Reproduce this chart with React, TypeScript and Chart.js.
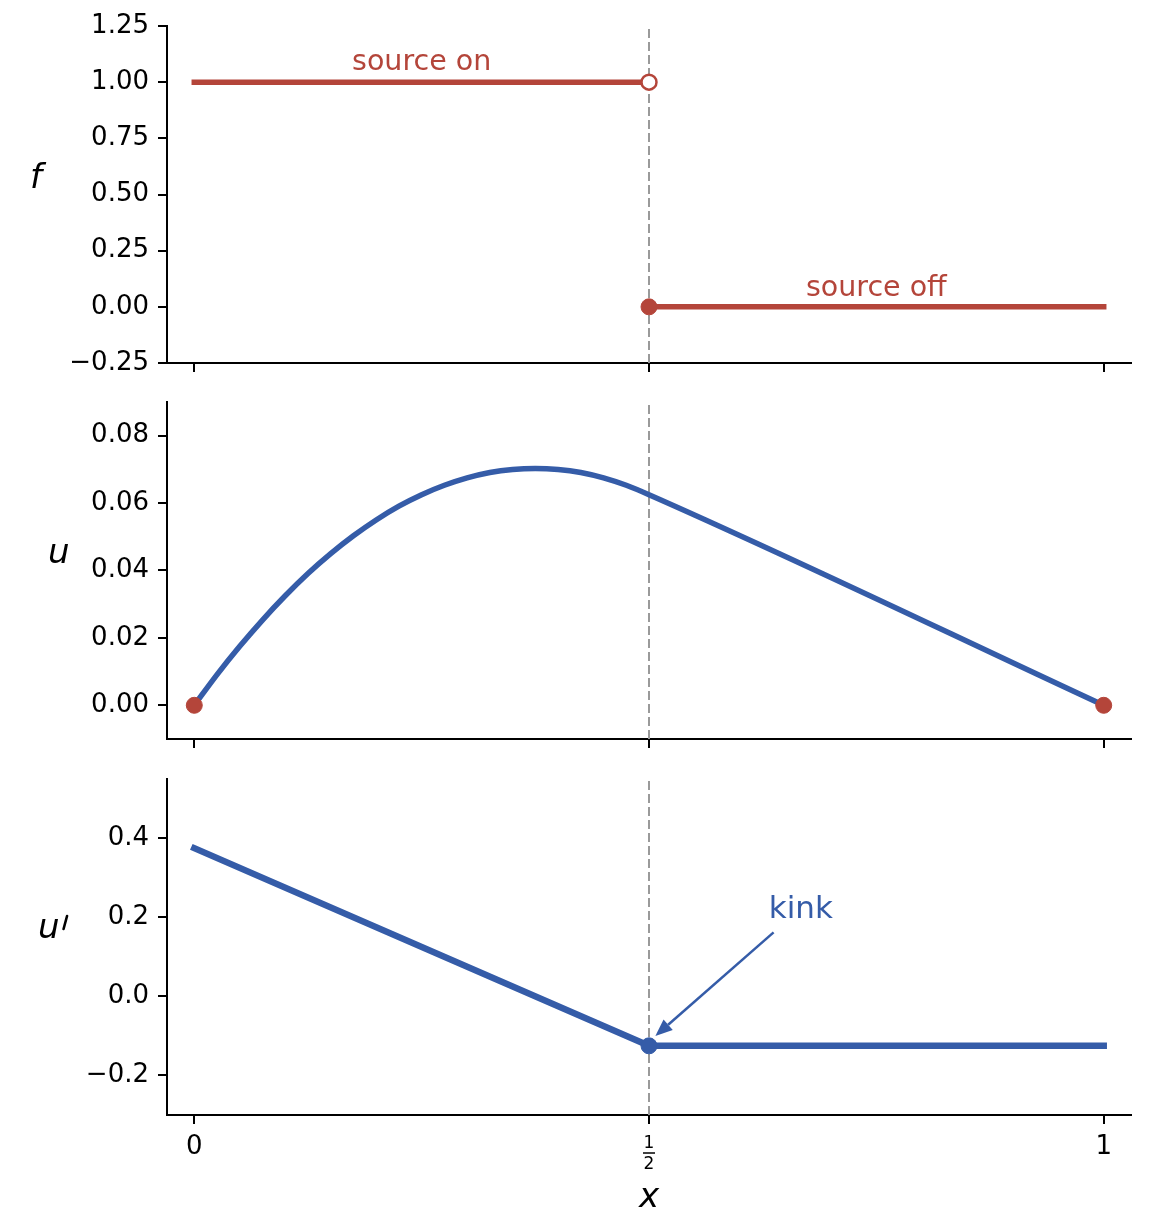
import { useEffect, useRef } from 'react';
import { Chart, registerables } from 'chart.js';

Chart.register(...registerables);

const RED = '#b4453a';
const BLUE = '#355ca8';
const GRAY = '#9a9a9a';
const FONT = '"DejaVu Sans", sans-serif';

// shared x axis
const xTicks = [0, 0.5, 1];

// f panel
const fTicks = [-0.25, 0, 0.25, 0.5, 0.75, 1, 1.25];
const fOnX = [0, 0.5];
const fOnY = [1, 1];
const fOffX = [0.5, 1];
const fOffY = [0, 0];

// u panel
const uTicks = [0, 0.02, 0.04, 0.06, 0.08];
const uX = [0, 0.025, 0.05, 0.075, 0.1, 0.125, 0.15, 0.175, 0.2, 0.225, 0.25, 0.275, 0.3, 0.325, 0.35, 0.375, 0.4, 0.425, 0.45, 0.475, 0.5, 1];
const uY = [0, 0.0091, 0.0175, 0.0253, 0.0325, 0.0391, 0.045, 0.0503, 0.055, 0.0591, 0.0625, 0.0653, 0.0675, 0.0691, 0.07, 0.0703, 0.07, 0.0691, 0.0675, 0.0653, 0.0625, 0];
const edgeX = [0, 1];
const edgeY = [0, 0];

// u' panel
const duTicks = [-0.2, 0, 0.2, 0.4];
const duX = [0, 0.5, 1];
const duY = [0.375, -0.125, -0.125];
const kinkX = [0.5];
const kinkY = [-0.125];

const pts = (xs: number[], ys: number[]) => xs.map((x, i) => ({ x, y: ys[i] }));
const fmt = (v: number, d: number) => v.toFixed(d).replace('-', '\u2212');

type Txt = { text: string; x: number; y: number; color: string; size: number };
type PanelProps = {
  top: number;
  height: number;
  padTop: number;
  xHeight: number;
  yMin: number;
  yMax: number;
  yTicks: number[];
  decimals: number;
  yLabel: { text: string; x: number; y: number; prime?: boolean };
  datasets: any[];
  texts?: Txt[];
  arrow?: { x0: number; y0: number; x1: number; y1: number };
  bottom?: boolean;
};

const vline = (yMin: number, yMax: number) => ({
  data: [{ x: 0.5, y: yMin }, { x: 0.5, y: yMax }],
  borderColor: GRAY,
  borderWidth: 2,
  borderDash: [9, 4],
  pointRadius: 0,
  order: 3,
});

const Panel = (p: PanelProps) => {
  const chartRef = useRef<HTMLCanvasElement>(null);
  const chartInstance = useRef<Chart | null>(null);

  useEffect(() => {
    if (!chartRef.current) return;
    const ctx = chartRef.current.getContext('2d');
    if (!ctx) return;
    if (chartInstance.current) chartInstance.current.destroy();

    const decor = {
      id: 'decor',
      afterDraw(chart: any) {
        const c = chart.ctx;
        const xs = chart.scales.x;
        const ys = chart.scales.y;
        const area = chart.chartArea;
        c.save();
        c.textAlign = 'center';
        c.textBaseline = 'alphabetic';
        for (const t of p.texts ?? []) {
          c.font = `${t.size}px ${FONT}`;
          c.fillStyle = t.color;
          c.fillText(t.text, xs.getPixelForValue(t.x), ys.getPixelForValue(t.y));
        }
        if (p.arrow) {
          const ax0 = xs.getPixelForValue(p.arrow.x0);
          const ay0 = ys.getPixelForValue(p.arrow.y0);
          const ax1 = xs.getPixelForValue(p.arrow.x1);
          const ay1 = ys.getPixelForValue(p.arrow.y1);
          const ang = Math.atan2(ay1 - ay0, ax1 - ax0);
          const hl = 17;
          const hw = 7;
          const bx = ax1 - hl * Math.cos(ang);
          const by = ay1 - hl * Math.sin(ang);
          c.strokeStyle = BLUE;
          c.fillStyle = BLUE;
          c.lineWidth = 2.5;
          c.beginPath();
          c.moveTo(ax0, ay0);
          c.lineTo(bx, by);
          c.stroke();
          c.beginPath();
          c.moveTo(ax1, ay1);
          c.lineTo(bx + hw * Math.sin(ang), by - hw * Math.cos(ang));
          c.lineTo(bx - hw * Math.sin(ang), by + hw * Math.cos(ang));
          c.closePath();
          c.fill();
        }
        // y label, horizontal
        c.fillStyle = '#000';
        c.strokeStyle = '#000';
        c.textAlign = 'left';
        c.font = `italic 34px ${FONT}`;
        c.fillText(p.yLabel.text, p.yLabel.x, p.yLabel.y);
        if (p.yLabel.prime) {
          const px = p.yLabel.x + c.measureText(p.yLabel.text).width;
          c.lineWidth = 2.6;
          c.lineCap = 'round';
          c.beginPath();
          c.moveTo(px + 7.5, p.yLabel.y - 22);
          c.lineTo(px + 4, p.yLabel.y - 9);
          c.stroke();
        }
        if (p.bottom) {
          // 1/2 tick label as a stacked fraction
          const hx = xs.getPixelForValue(0.5);
          const b = area.bottom;
          c.textAlign = 'center';
          c.font = `17px ${FONT}`;
          c.fillText('1', hx, b + 32.5);
          c.fillText('2', hx, b + 54);
          c.lineWidth = 1.5;
          c.lineCap = 'butt';
          c.beginPath();
          c.moveTo(hx - 6, b + 38);
          c.lineTo(hx + 6, b + 38);
          c.stroke();
          c.font = `italic 34px ${FONT}`;
          c.fillText('x', (area.left + area.right) / 2, b + 92);
        }
        c.restore();
      },
    };

    chartInstance.current = new Chart(ctx, {
      type: 'line',
      data: { datasets: [...p.datasets, vline(p.yMin, p.yMax)] },
      options: {
        animation: false,
        responsive: true,
        maintainAspectRatio: false,
        events: [],
        layout: { padding: { top: p.padTop, right: 41, left: 0, bottom: 0 } },
        plugins: { legend: { display: false }, tooltip: { enabled: false } },
        scales: {
          x: {
            type: 'linear',
            min: -0.03,
            max: 1.03,
            afterBuildTicks: (s: any) => {
              s.ticks = xTicks.map((v) => ({ value: v }));
            },
            afterFit: (s: any) => {
              s.height = p.xHeight;
              s.paddingLeft = 0;
              s.paddingRight = 0;
            },
            grid: { drawOnChartArea: false, drawTicks: true, tickLength: 9, color: '#000', lineWidth: 2 },
            border: { display: true, color: '#000', width: 2 },
            ticks: {
              autoSkip: false,
              maxRotation: 0,
              padding: 8,
              color: '#000',
              font: { family: FONT, size: 26 },
              callback: (v: any) => (p.bottom && (v === 0 || v === 1) ? String(v) : ''),
            },
          },
          y: {
            type: 'linear',
            min: p.yMin,
            max: p.yMax,
            afterBuildTicks: (s: any) => {
              s.ticks = p.yTicks.map((v) => ({ value: v }));
            },
            afterFit: (s: any) => {
              s.width = 167;
              s.paddingTop = 0;
              s.paddingBottom = 0;
            },
            grid: { drawOnChartArea: false, drawTicks: true, tickLength: 9, color: '#000', lineWidth: 2 },
            border: { display: true, color: '#000', width: 2 },
            ticks: {
              padding: 9,
              color: '#000',
              font: { family: FONT, size: 26 },
              callback: (v: any) => fmt(Number(v), p.decimals),
            },
          },
        },
      },
      plugins: [decor],
    } as any);

    return () => {
      if (chartInstance.current) {
        chartInstance.current.destroy();
        chartInstance.current = null;
      }
    };
  }, []);

  return (
    <div style={{ position: 'absolute', left: 0, top: p.top, width: 1172, height: p.height }}>
      <canvas ref={chartRef}></canvas>
    </div>
  );
};

const line = (xs: number[], ys: number[], color: string, width: number, smooth = false) => ({
  data: pts(xs, ys),
  borderColor: color,
  borderWidth: width,
  borderCapStyle: 'square',
  pointRadius: 0,
  tension: 0,
  cubicInterpolationMode: smooth ? 'monotone' : 'default',
  order: 2,
});

const dots = (xs: number[], ys: number[], fill: string, edge: string, r: number, bw: number) => ({
  data: pts(xs, ys),
  showLine: false,
  pointRadius: r,
  pointBackgroundColor: fill,
  pointBorderColor: edge,
  pointBorderWidth: bw,
  order: 1,
});

export default function App() {
  return (
    <div style={{ position: 'absolute', left: 0, top: 0, width: 1172, height: 1226, background: '#fff' }}>
      <Panel
        top={0}
        height={385}
        padTop={26}
        xHeight={22}
        yMin={-0.25}
        yMax={1.25}
        yTicks={fTicks}
        decimals={2}
        yLabel={{ text: 'f', x: 30, y: 188 }}
        datasets={[
          line(fOnX, fOnY, RED, 5.5),
          line(fOffX, fOffY, RED, 5.5),
          dots([fOnX[1]], [fOnY[1]], '#fff', RED, 7.5, 2.5),
          dots([fOffX[0]], [fOffY[0]], RED, RED, 8, 1),
        ]}
        texts={[
          { text: 'source on', x: 0.25, y: 1.053, color: RED, size: 28.5 },
          { text: 'source off', x: 0.75, y: 0.046, color: RED, size: 28.5 },
        ]}
      />
      <Panel
        top={385}
        height={385}
        padTop={17}
        xHeight={31}
        yMin={-0.01}
        yMax={0.09}
        yTicks={uTicks}
        decimals={2}
        yLabel={{ text: 'u', x: 48, y: 178 }}
        datasets={[line(uX, uY, BLUE, 5.5, true), dots(edgeX, edgeY, RED, RED, 8, 1)]}
      />
      <Panel
        top={770}
        height={456}
        padTop={7}
        xHeight={111}
        yMin={-0.3}
        yMax={0.55}
        yTicks={duTicks}
        decimals={1}
        yLabel={{ text: 'u', x: 38, y: 168, prime: true }}
        datasets={[line(duX, duY, BLUE, 6.5), dots(kinkX, kinkY, BLUE, BLUE, 8, 1)]}
        texts={[{ text: 'kink', x: 0.667, y: 0.198, color: BLUE, size: 31 }]}
        arrow={{ x0: 0.637, y0: 0.162, x1: 0.507, y1: -0.1 }}
        bottom
      />
    </div>
  );
}
